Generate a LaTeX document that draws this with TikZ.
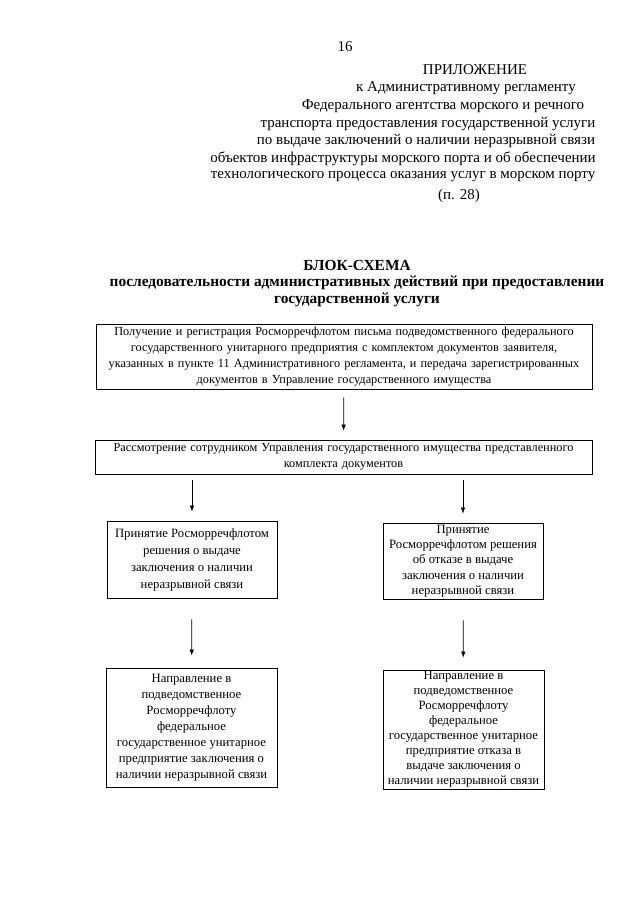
\documentclass[tikz,border=0pt]{standalone}
\usepackage{fontspec}
\setmainfont{Liberation Serif}
\usepackage{tikz}
\usetikzlibrary{arrows.meta, positioning}

\newcommand{\hdrfont}{\fontsize{15}{17.7}\selectfont}
\newcommand{\ttlfont}{\fontsize{15.4}{17.7}\selectfont\bfseries}
\newcommand{\boxfont}[2]{\fontsize{#1}{#2}\selectfont}

\tikzset{
  hdr/.style={inner sep=0pt, font=\hdrfont},
  ttl/.style={inner sep=0pt, font=\ttlfont},
  stagebox/.style={draw, line width=0.8pt, align=center, inner xsep=6pt, inner ysep=0pt, font=\boxfont{12.3}{15.8}},
  smallbox/.style={stagebox, inner xsep=2pt},
  arr/.style={-{Latex[length=6pt,width=4.5pt]}, line width=0.7pt},
}

\begin{document}
\begin{tikzpicture}[x=1pt, y=-1pt]
    \useasboundingbox (0,0) rectangle (640,905);

    % header of the appendix
    \node[hdr] (page) at (345,47) {16};
    \node[hdr] (h1) at (475,70) {ПРИЛОЖЕНИЕ};
    \node[hdr] (h2) at (466,88) {к Административному регламенту};
    \node[hdr] (h3) at (443,106) {Федерального агентства морского и речного};
    \node[hdr] (h4) at (428,124) {транспорта предоставления государственной услуги};
    \node[hdr] (h5) at (426,141) {по выдаче заключений о наличии неразрывной связи};
    \node[hdr] (h6) at (403,159) {объектов инфраструктуры морского порта и об обеспечении};
    \node[hdr] (h7) at (403,177) {технологического процесса оказания услуг в морском порту};
    \node[hdr] (h8) at (459,196) {(п. 28)};

    % title
    \node[ttl] (t1) at (357,265) {БЛОК-СХЕМА};
    \node[ttl] (t2) at (357,283) {последовательности административных действий при предоставлении};
    \node[ttl] (t3) at (357,300) {государственной услуги};

    % stages
    \node[stagebox, text width=484pt, minimum height=65pt] (recv) at (344,356.5)
        {Получение и регистрация Росморречфлотом письма подведомственного федерального\\
         государственного унитарного предприятия с комплектом документов заявителя,\\
         указанных в пункте 11 Административного регламента, и передача зарегистрированных\\
         документов в Управление государственного имущества};
    \node[stagebox, text width=485pt, minimum height=34pt] (check) at (343.5,457)
        {Рассмотрение сотрудником Управления государственного имущества представленного\\
         комплекта документов};
    \node[smallbox, font=\boxfont{12.7}{17}, minimum width=170pt, minimum height=77pt] (yes) at (192,559.5)
        {Принятие Росморречфлотом\\ решения о выдаче\\ заключения о наличии\\ неразрывной связи};
    \node[smallbox, font=\boxfont{12.7}{15.4}, minimum width=160pt, minimum height=76pt] (no) at (463,561)
        {Принятие\\ Росморречфлотом решения\\ об отказе в выдаче\\ заключения о наличии\\ неразрывной связи};
    \node[smallbox, font=\boxfont{12.7}{16}, minimum width=171pt, minimum height=119pt] (sendyes) at (191.5,727.5)
        {Направление в\\ подведомственное\\ Росморречфлоту\\ федеральное\\ государственное унитарное\\ предприятие заключения о\\ наличии неразрывной связи};
    \node[smallbox, font=\boxfont{12.7}{15}, minimum width=161pt, minimum height=119pt] (sendno) at (463.5,729.5)
        {Направление в\\ подведомственное\\ Росморречфлоту\\ федеральное\\ государственное унитарное\\ предприятие отказа в\\ выдаче заключения о\\ наличии неразрывной связи};

    % arrows
    \draw[arr, shorten <=8pt, shorten >=9pt] (recv) -- (check);
    \draw[arr, shorten <=6pt, shorten >=9pt] (yes.north |- check.south) -- (yes.north);
    \draw[arr, shorten <=6pt, shorten >=9pt] (no.north |- check.south) -- (no.north);
    \draw[arr, shorten <=21pt, shorten >=12pt] (yes) -- (sendyes);
    \draw[arr, shorten <=21pt, shorten >=12pt] (no) -- (sendno);
\end{tikzpicture}
\end{document}
